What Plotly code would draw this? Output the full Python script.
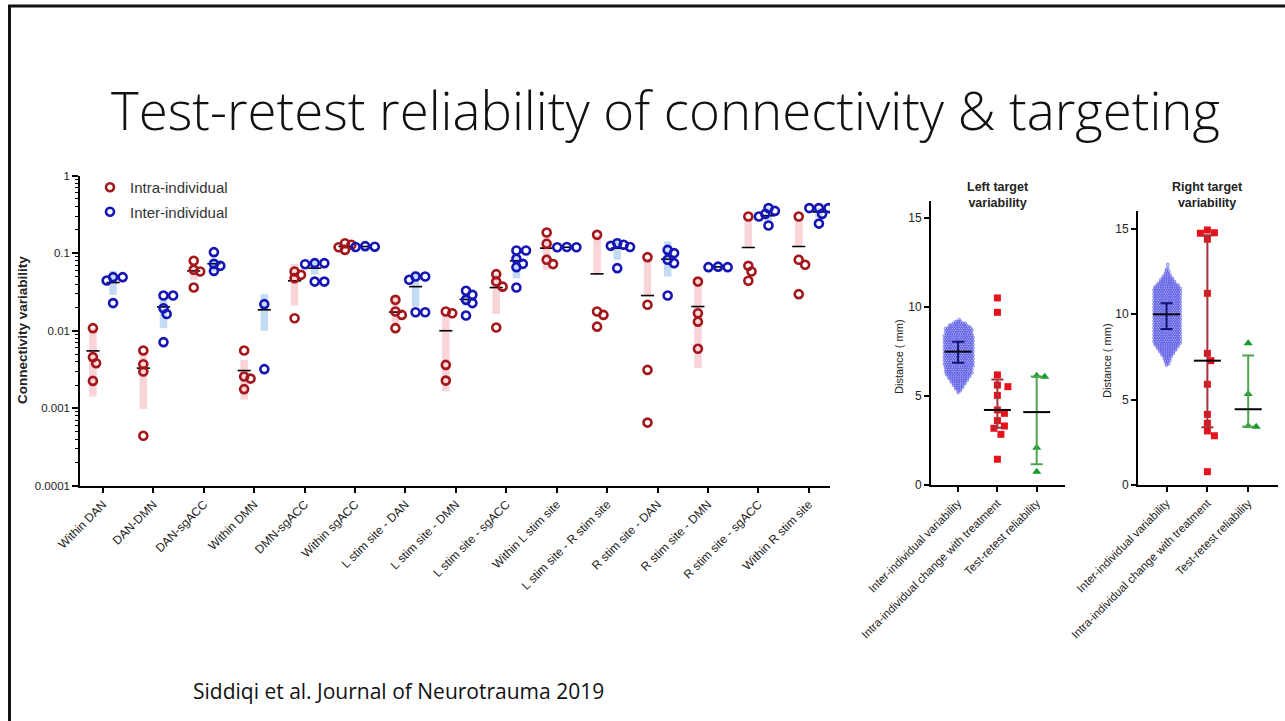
import plotly.graph_objects as go
import math

W, H = 1285, 721

# ---------------- data: left panel (connectivity variability) ----------------
categories = ["Within DAN", "DAN-DMN", "DAN-sgACC", "Within DMN", "DMN-sgACC",
              "Within sgACC", "L stim site - DAN", "L stim site - DMN",
              "L stim site - sgACC", "Within L stim site", "L stim site - R stim site",
              "R stim site - DAN", "R stim site - DMN", "R stim site - sgACC",
              "Within R stim site"]

intra_values = [
    [0.0108, 0.00457, 0.00382, 0.00226],
    [0.00556, 0.0037, 0.00298, 0.000443],
    [0.0796, 0.061, 0.058, 0.036],
    [0.00556, 0.00257, 0.00242, 0.00177],
    [0.058, 0.0525, 0.0476, 0.0145],
    [0.134, 0.128, 0.119, 0.110],
    [0.025, 0.0177, 0.016, 0.0108],
    [0.0177, 0.0168, 0.00363, 0.00228],
    [0.0536, 0.043, 0.037, 0.011],
    [0.184, 0.132, 0.082, 0.0722],
    [0.172, 0.0177, 0.016, 0.0113],
    [0.0888, 0.0216, 0.00313, 0.000656],
    [0.043, 0.0168, 0.0131, 0.00585],
    [0.296, 0.0686, 0.058, 0.044],
    [0.296, 0.082, 0.0707, 0.0296],
]
intra_mean = [0.0055, 0.0033, 0.059, 0.00307, 0.044, 0.122, 0.0174, 0.010, 0.036,
              0.116, 0.054, 0.0284, 0.0205, 0.118, 0.1217]
intra_bar_lo = [0.00142, 0.00098, 0.0454, 0.00129, 0.0211, 0.112, 0.0113, 0.00166, 0.0164,
                0.061, 0.054, 0.0284, 0.0033, 0.118, 0.1217]
intra_bar_hi = [0.0108, 0.0053, 0.0707, 0.0042, 0.0728, 0.132, 0.0274, 0.0168, 0.055,
                0.163, 0.172, 0.085, 0.0476, 0.28, 0.27]

inter_values = [
    [0.049, 0.049, 0.0443, 0.0227],
    [0.0284, 0.0284, 0.0195, 0.0164, 0.00713],
    [0.103, 0.0728, 0.0686, 0.059],
    [0.022, 0.0032],
    [0.0743, 0.072, 0.0743, 0.043, 0.043],
    [0.123, 0.121, 0.120],
    [0.05, 0.05, 0.0453, 0.0173, 0.0173],
    [0.0327, 0.029, 0.025, 0.0227, 0.0157],
    [0.108, 0.108, 0.0845, 0.0728, 0.066, 0.036],
    [0.120, 0.119, 0.119],
    [0.134, 0.128, 0.124, 0.12, 0.064],
    [0.11, 0.1, 0.082, 0.0743, 0.0284],
    [0.067, 0.066, 0.066],
    [0.38, 0.35, 0.32, 0.296, 0.227],
    [0.38, 0.38, 0.38, 0.32, 0.24],
]
inter_mean = [0.0418, 0.0203, 0.073, 0.0186, 0.064, 0.1216, 0.037, 0.0253, 0.0796,
              0.119, 0.116, 0.0836, 0.0665, 0.303, 0.34]
inter_bar_lo = [0.029, 0.0108, 0.058, 0.01, 0.053, 0.118, 0.0205, 0.021, 0.0475,
                0.117, 0.082, 0.05, 0.064, 0.24, 0.29]
inter_bar_hi = [0.059, 0.025, 0.085, 0.0296, 0.085, 0.125, 0.059, 0.03, 0.095,
                0.122, 0.156, 0.141, 0.069, 0.39, 0.38]

y_tickvals = [0.0001, 0.001, 0.01, 0.1, 1]
y_ticktext = ["0.0001", "0.001", "0.01", "0.1", "1"]

# ---------------- data: target variability panels ----------------
target_categories = ["Inter-individual variability",
                     "Intra-individual change with treatment",
                     "Test-retest reliability"]

# inter-individual distances shown as a dense swarm: row value (mm) and number of dots per row
left_swarm_mm = [5.2, 5.3, 5.4, 5.5, 5.6, 5.7, 5.8, 5.9, 6.0, 6.1, 6.2, 6.3, 6.4, 6.5,
                 6.6, 6.7, 6.8, 6.9, 7.0, 7.1, 7.2, 7.3, 7.4, 7.5, 7.6, 7.7, 7.8, 7.9,
                 8.0, 8.1, 8.2, 8.3, 8.4, 8.5, 8.6, 8.7, 8.8, 8.9, 9.0, 9.1, 9.2, 9.3]
left_swarm_count = [1, 2, 3, 4, 5, 6, 7, 8, 9, 10, 11, 12, 12, 12,
                    12, 13, 13, 13, 13, 13, 13, 13, 13, 13, 13, 13, 13, 13,
                    13, 13, 13, 13, 13, 12, 12, 12, 12, 10, 8, 6, 3, 1]
left_intra = [10.52, 9.71, 6.19, 5.62, 5.53, 5.04, 4.22, 4.03, 3.62, 3.32, 3.19, 2.85, 1.45]
left_retest = [6.09, 6.15, 2.1, 0.75]
left_center = [7.5, 4.22, 4.1]        # mean / median lines
left_err_lo = [6.88, 3.22, 1.16]
left_err_hi = [8.06, 5.94, 6.1]

right_swarm_mm = [7.0, 7.1, 7.2, 7.3, 7.4, 7.5, 7.6, 7.7, 7.8, 7.9, 8.0, 8.1, 8.2, 8.3,
                  8.4, 8.5, 8.6, 8.7, 8.8, 8.9, 9.0, 9.1, 9.2, 9.3, 9.4, 9.5, 9.6, 9.7,
                  9.8, 9.9, 10.0, 10.1, 10.2, 10.3, 10.4, 10.5, 10.6, 10.7, 10.8, 10.9,
                  11.0, 11.1, 11.2, 11.3, 11.4, 11.5, 11.6, 11.7, 11.8, 11.9, 12.0, 12.1,
                  12.2, 12.3, 12.4, 12.5, 12.6, 12.7, 12.8, 12.9]
right_swarm_count = [1, 2, 2, 3, 3, 4, 5, 6, 7, 8, 9, 10, 11, 12,
                     12, 12, 12, 12, 12, 12, 12, 12, 12, 12, 12, 12, 12, 12,
                     12, 12, 12, 12, 12, 12, 12, 12, 12, 12, 12, 12,
                     12, 12, 12, 12, 12, 12, 11, 10, 8, 7, 6, 5,
                     4, 3, 2, 2, 1, 1, 0, 1]
right_intra = [14.91, 14.75, 14.72, 14.37, 11.21, 7.70, 7.27, 5.89, 4.13, 3.61, 3.16, 2.88, 0.78]
right_retest = [8.29, 5.32, 3.45, 3.41]
right_center = [9.98, 7.27, 4.43]
right_err_lo = [9.12, 3.37, 3.41]
right_err_hi = [10.63, 14.6, 7.58]

# ---------------- geometry (pixels) ----------------
def fx(p):
    return p / W


def fy(p):
    return 1 - p / H


LP = dict(x0=80, x1=830, top=175.5, bottom=486)
LT = dict(x0=931, x1=1065, top=200.5, bottom=485)
RT = dict(x0=1138, x1=1278, top=211.4, bottom=485)

LP_XR = [-0.456, 14.42]
LT_XR = [-0.69, 2.72]
RT_XR = [-0.70, 2.73]

lp_sx = (LP["x1"] - LP["x0"]) / (LP_XR[1] - LP_XR[0])
lp_sy = (LP["bottom"] - LP["top"]) / 4.0
lt_sx = (LT["x1"] - LT["x0"]) / (LT_XR[1] - LT_XR[0])
lt_sy = (LT["bottom"] - LT["top"]) / 16.0
rt_sx = (RT["x1"] - RT["x0"]) / (RT_XR[1] - RT_XR[0])
rt_sy = (RT["bottom"] - RT["top"]) / 16.0


def swarm(vals, center, d_px, step_px, sx, sy, tf=lambda v: v):
    order = sorted(range(len(vals)), key=lambda i: -vals[i])
    placed = []
    xs = [center] * len(vals)
    cands = [0]
    for j in range(1, 30):
        cands += [j, -j]
    for i in order:
        yp = tf(vals[i]) * sy
        xp = 0
        for c in cands:
            xp = c * step_px
            if all((xp - a) ** 2 + (yp - b) ** 2 >= d_px ** 2 - 1e-9 for a, b in placed):
                break
        placed.append((xp, yp))
        xs[i] = center + xp / sx
    return xs


def seg_lines(centers, values, half):
    xs, ys = [], []
    for c, v in zip(centers, values):
        xs += [c - half, c + half, None]
        ys += [v, v, None]
    return xs, ys


RED = "#a3171b"
BLUE = "#1515b5"
PINK = "#f9d5da"
LBLUE = "#c4dbf4"
OFF = 0.2

fig = go.Figure()

# bars (behind)
red_c = [i - OFF for i in range(len(categories))]
blue_c = [i + OFF for i in range(len(categories))]
fig.add_trace(go.Bar(x=red_c, base=intra_bar_lo,
                     y=[h - l for h, l in zip(intra_bar_hi, intra_bar_lo)],
                     width=0.15, marker=dict(color=PINK, line=dict(width=0)),
                     showlegend=False, hoverinfo="skip", xaxis="x", yaxis="y"))
fig.add_trace(go.Bar(x=blue_c, base=inter_bar_lo,
                     y=[h - l for h, l in zip(inter_bar_hi, inter_bar_lo)],
                     width=0.15, marker=dict(color=LBLUE, line=dict(width=0)),
                     showlegend=False, hoverinfo="skip", xaxis="x", yaxis="y"))

# mean lines
mx, my = seg_lines(red_c + blue_c, intra_mean + inter_mean, 0.13)
fig.add_trace(go.Scatter(x=mx, y=my, mode="lines", line=dict(color="black", width=1.6),
                         showlegend=False, hoverinfo="skip", xaxis="x", yaxis="y"))

# points
ix, iy, bx, by = [], [], [], []
for k in range(len(categories)):
    ix += swarm(intra_values[k], red_c[k], 6.5, 3.2, lp_sx, lp_sy, math.log10)
    iy += intra_values[k]
    bx += swarm(inter_values[k], blue_c[k], 6.5, 3.2, lp_sx, lp_sy, math.log10)
    by += inter_values[k]
fig.add_trace(go.Scatter(x=ix, y=iy, mode="markers", name="Intra-individual",
                         marker=dict(symbol="circle-open", size=8, color=RED,
                                     line=dict(width=2.6, color=RED)),
                         legendgroup="a", xaxis="x", yaxis="y"))
fig.add_trace(go.Scatter(x=bx, y=by, mode="markers", name="Inter-individual",
                         marker=dict(symbol="circle-open", size=8, color=BLUE,
                                     line=dict(width=2.6, color=BLUE)),
                         legendgroup="b", xaxis="x", yaxis="y"))


# ---------------- target panels ----------------
def swarm_rows(mm, counts, center, step, stagger):
    xs, ys = [], []
    for r, (v, n) in enumerate(zip(mm, counts)):
        sh = stagger if r % 2 else 0
        for j in range(n):
            xs.append(center + (j - (n - 1) / 2) * step + sh)
            ys.append(v)
    return xs, ys


def target_panel(xa, ya, swarm_mm, swarm_count, intra, retest, center, lo, hi, sx, sy):
    sxs, sys_ = swarm_rows(swarm_mm, swarm_count, 0, 2.3 / sx, 1.15 / sx)
    fig.add_trace(go.Scatter(x=sxs, y=sys_, mode="markers",
                             marker=dict(symbol="circle", size=2.8, color="rgba(150,150,250,0.5)",
                                         line=dict(width=0.6, color="rgba(70,70,220,0.8)")),
                             showlegend=False, hoverinfo="skip", xaxis=xa, yaxis=ya))
    rx = swarm(intra, 1, 7.5, 3.5, sx, sy)
    fig.add_trace(go.Scatter(x=rx, y=intra, mode="markers",
                             marker=dict(symbol="square", size=7, color="#e5121c"),
                             showlegend=False, hoverinfo="skip", xaxis=xa, yaxis=ya))
    gx = swarm(retest, 2, 8, 4, sx, sy)
    fig.add_trace(go.Scatter(x=gx, y=retest, mode="markers",
                             marker=dict(symbol="triangle-up", size=8, color="#169a2c"),
                             showlegend=False, hoverinfo="skip", xaxis=xa, yaxis=ya))
    colors = ["#141470", "#a6323c", "#4fa54f"]
    for k in range(3):
        fig.add_trace(go.Scatter(x=[k], y=[center[k]], mode="markers",
                                 marker=dict(size=1, color="rgba(0,0,0,0)"),
                                 error_y=dict(type="data", symmetric=False,
                                              array=[hi[k] - center[k]],
                                              arrayminus=[center[k] - lo[k]],
                                              color=colors[k], thickness=2, width=6),
                                 showlegend=False, hoverinfo="skip", xaxis=xa, yaxis=ya))
    hx, hy = seg_lines([0, 1, 2], center, 13.5 / sx)
    fig.add_trace(go.Scatter(x=hx, y=hy, mode="lines", line=dict(color="black", width=2),
                             showlegend=False, hoverinfo="skip", xaxis=xa, yaxis=ya))


target_panel("x2", "y2", left_swarm_mm, left_swarm_count, left_intra, left_retest,
             left_center, left_err_lo, left_err_hi, lt_sx, lt_sy)
target_panel("x3", "y3", right_swarm_mm, right_swarm_count, right_intra, right_retest,
             right_center, right_err_lo, right_err_hi, rt_sx, rt_sy)

FONT = "Liberation Sans, Arial, sans-serif"

minor_vals = []
for e in range(-4, 0):
    for m in range(2, 10):
        minor_vals.append(m * 10 ** e)

common = dict(showline=True, linecolor="black", ticks="outside", tickcolor="black",
              showgrid=False, zeroline=False, automargin=False)

fig.update_layout(
    width=W, height=H, margin=dict(l=0, r=0, t=0, b=0, pad=0, autoexpand=False),
    paper_bgcolor="white", plot_bgcolor="white",
    barmode="overlay",
    font=dict(family=FONT, color="#222"),
    showlegend=True,
    legend=dict(x=fx(90), y=fy(171), xanchor="left", yanchor="top",
                font=dict(size=15, family=FONT, color="#333"),
                bgcolor="rgba(0,0,0,0)", traceorder="grouped", tracegroupgap=2,
                itemwidth=30),
    xaxis=dict(domain=[fx(LP["x0"]), fx(LP["x1"])], range=LP_XR, anchor="y",
               tickvals=list(range(len(categories))), ticktext=categories,
               tickangle=-45, tickfont=dict(size=12, family=FONT, color="#222"),
               linewidth=1.5, ticklen=5, tickwidth=1.5, **common),
    yaxis=dict(domain=[fy(LP["bottom"]), fy(LP["top"])], type="log", range=[-4, 0],
               anchor="x", tickvals=y_tickvals, ticktext=y_ticktext,
               tickfont=dict(size=11.5, family=FONT, color="#222"),
               linewidth=1.5, ticklen=6, tickwidth=1.5,
               minor=dict(tickvals=minor_vals, ticks="outside", ticklen=3,
                          tickwidth=1, tickcolor="black", showgrid=False), **common),
    xaxis2=dict(domain=[fx(LT["x0"]), fx(LT["x1"])], range=LT_XR, anchor="y2",
                tickvals=[0, 1, 2], ticktext=target_categories, tickangle=-45,
                tickfont=dict(size=11.5, family=FONT, color="#222"),
                linewidth=2, ticklen=5, tickwidth=1.5, **common),
    yaxis2=dict(domain=[fy(LT["bottom"]), fy(LT["top"])], range=[0, 16], anchor="x2",
                tickvals=[0, 5, 10, 15], tickfont=dict(size=12, family=FONT, color="#222"),
                linewidth=2, ticklen=5, tickwidth=1.5, **common),
    xaxis3=dict(domain=[fx(RT["x0"]), fx(RT["x1"])], range=RT_XR, anchor="y3",
                tickvals=[0, 1, 2], ticktext=target_categories, tickangle=-45,
                tickfont=dict(size=11.5, family=FONT, color="#222"),
                linewidth=2, ticklen=5, tickwidth=1.5, **common),
    yaxis3=dict(domain=[fy(RT["bottom"]), fy(RT["top"])], range=[0, 16], anchor="x3",
                tickvals=[0, 5, 10, 15], tickfont=dict(size=12, family=FONT, color="#222"),
                linewidth=2, ticklen=5, tickwidth=1.5, **common),
)

ann = [
    dict(text="Test-retest reliability of connectivity &amp; targeting",
         x=fx(665), y=fy(110), xanchor="center", yanchor="middle",
         font=dict(family="Open Sans", size=52.8, color="#111", weight=300)),
    dict(text="Siddiqi et al. Journal of Neurotrauma 2019",
         x=fx(191), y=fy(691), xanchor="left", yanchor="middle",
         font=dict(family="Open Sans", size=21, color="#111")),
    dict(text="<b>Connectivity variability</b>", x=fx(22), y=fy(330), textangle=-90,
         xanchor="center", yanchor="middle", font=dict(family=FONT, size=13.5, color="#222")),
    dict(text="<b>Left target<br>variability</b>", x=fx(998), y=fy(195),
         xanchor="center", yanchor="middle", font=dict(family=FONT, size=12.5, color="#222")),
    dict(text="<b>Right target<br>variability</b>", x=fx(1207), y=fy(195),
         xanchor="center", yanchor="middle", font=dict(family=FONT, size=12.5, color="#222")),
    dict(text="Distance ( mm)", x=fx(899), y=fy(357), textangle=-90,
         xanchor="center", yanchor="middle", font=dict(family=FONT, size=11, color="#222")),
    dict(text="Distance ( mm)", x=fx(1107), y=fy(361), textangle=-90,
         xanchor="center", yanchor="middle", font=dict(family=FONT, size=11, color="#222")),
]
for a in ann:
    a.update(xref="paper", yref="paper", showarrow=False)
fig.update_layout(annotations=ann)

fig.update_layout(shapes=[
    dict(type="line", xref="paper", yref="paper", x0=fx(8), x1=1, y0=fy(6), y1=fy(6),
         line=dict(color="#111", width=3)),
    dict(type="line", xref="paper", yref="paper", x0=fx(9.5), x1=fx(9.5), y0=fy(5), y1=0,
         line=dict(color="#111", width=3)),
])

fig.write_html("out.html")
